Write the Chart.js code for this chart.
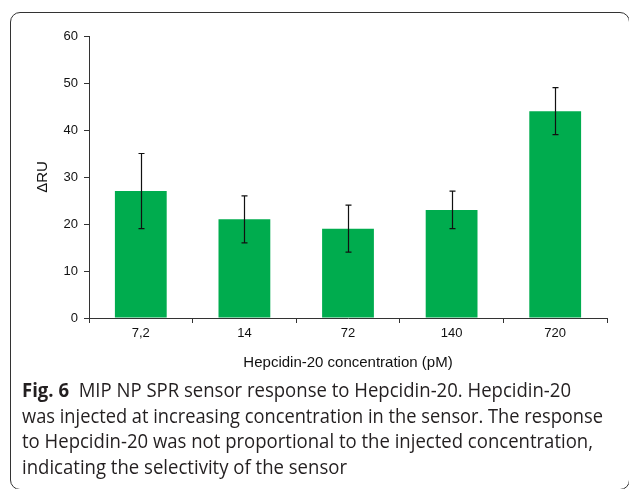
<!DOCTYPE html>
<html><head><meta charset="utf-8">
<script src="https://cdn.jsdelivr.net/npm/chart.js@4"></script>
<style>
html,body{margin:0;padding:0;background:#fff;}
body{width:629px;height:489px;position:relative;overflow:hidden;}
#frame{position:absolute;left:10px;top:12px;width:620px;height:478px;border:1px solid #333;border-radius:10px;box-sizing:border-box;}
#wrap{position:absolute;left:0;top:0;width:629px;height:380px;}
#cap{position:absolute;left:22px;top:377px;font-family:"Open Sans",sans-serif;font-size:20px;line-height:25.7px;color:#231f20;white-space:nowrap;}
#cap .ln{display:block;transform-origin:0 50%;}
#cap b{font-weight:700;}
</style></head>
<body>
<div id="frame"></div>
<div id="wrap"><canvas id="c" width="629" height="380"></canvas></div>
<div id="cap">
<span class="ln" data-w="549"><b>Fig. 6</b>&nbsp; MIP NP SPR sensor response to Hepcidin-20. Hepcidin-20</span>
<span class="ln" data-w="581">was injected at increasing concentration in the sensor. The response</span>
<span class="ln" data-w="571">to Hepcidin-20 was not proportional to the injected concentration,</span>
<span class="ln" data-w="325">indicating the selectivity of the sensor</span>
</div>
<script>
const categories = ["7,2", "14", "72", "140", "720"];
const responseRU = [27, 21, 19, 23, 44];
const errorLow = [19, 16, 14, 19, 39];
const errorHigh = [35, 26, 24, 27, 49];
const yTicks = [0, 10, 20, 30, 40, 50, 60];

const errorBars = {
  id: 'errorBars',
  afterDatasetsDraw(chart) {
    const ctx = chart.ctx, y = chart.scales.y;
    const meta = chart.getDatasetMeta(0);
    ctx.save();
    ctx.strokeStyle = '#111';
    ctx.lineWidth = 1.2;
    meta.data.forEach((bar, i) => {
      const x = Math.round(bar.x) + 0.5;
      const yl = y.getPixelForValue(errorLow[i]);
      const yh = y.getPixelForValue(errorHigh[i]);
      ctx.beginPath();
      ctx.moveTo(x, yl); ctx.lineTo(x, yh);
      ctx.moveTo(x - 3, yl); ctx.lineTo(x + 3, yl);
      ctx.moveTo(x - 3, yh); ctx.lineTo(x + 3, yh);
      ctx.stroke();
    });
    ctx.restore();
  }
};

new Chart(document.getElementById('c'), {
  type: 'bar',
  data: {
    labels: categories,
    datasets: [{ data: responseRU, backgroundColor: '#00AC4E', borderWidth: 0,
      categoryPercentage: 1, barPercentage: 0.5 }]
  },
  options: {
    responsive: false, animation: false, devicePixelRatio: 1,
    layout: { padding: { left: 34, right: 22, top: 36, bottom: 7 } },
    plugins: { legend: { display: false }, tooltip: { enabled: false } },
    scales: {
      x: {
        offset: true,
        grid: { offset: true, drawOnChartArea: false, drawTicks: true, tickLength: 5, color: '#333' },
        border: { display: true, color: '#333', width: 1 },
        ticks: { color: '#111', font: { family: 'Liberation Sans', size: 13 }, padding: 3 },
        title: { display: true, text: 'Hepcidin-20 concentration (pM)', color: '#111',
          font: { family: 'Liberation Sans', size: 15 }, padding: { top: 0, bottom: 1 } },
        afterFit(s) { s.height = 55; }
      },
      y: {
        min: 0, max: 60,
        afterBuildTicks(s) { s.ticks = yTicks.map(v => ({ value: v })); },
        grid: { drawOnChartArea: false, drawTicks: true, tickLength: 5, color: '#333' },
        border: { display: true, color: '#333', width: 1 },
        ticks: { color: '#111', font: { family: 'Liberation Sans', size: 13 }, padding: 6 },
        title: { display: true, text: 'ΔRU', color: '#111',
          font: { family: 'Liberation Sans', size: 15 }, padding: 0 },
        afterFit(s) { s.width = 55; }
      }
    }
  },
  plugins: [errorBars]
});

document.querySelectorAll('#cap .ln').forEach(el => {
  el.style.display = 'inline-block';
  const w = el.getBoundingClientRect().width;
  const target = +el.dataset.w;
  el.style.transform = 'scaleX(' + (target / w).toFixed(4) + ')';
  el.style.display = 'block';
  el.style.width = w + 'px';
});
</script>
</body></html>
